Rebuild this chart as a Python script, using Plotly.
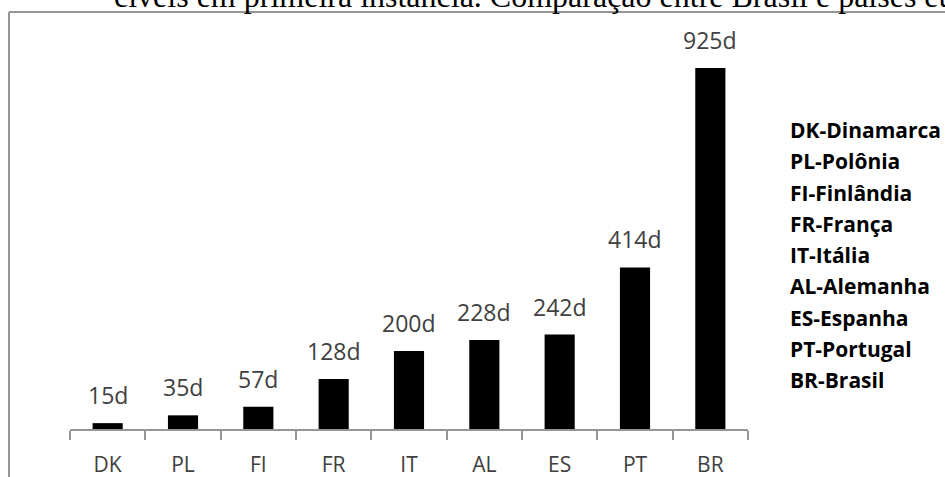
import plotly.graph_objects as go

# Average duration of first-instance civil proceedings, in days
codes = ["DK", "PL", "FI", "FR", "IT", "AL", "ES", "PT", "BR"]
days = [15, 35, 57, 128, 200, 228, 242, 414, 925]
names = ["Dinamarca", "Polônia", "Finlândia", "França", "Itália",
         "Alemanha", "Espanha", "Portugal", "Brasil"]
title_text = "cíveis em primeira instância. Comparação entre Brasil e países eu"

W, H = 945, 477
ML, MR, MT, MB = 70, 197, 40, 48
PW, PH = W - ML - MR, H - MT - MB


def px_x(px):
    return (px - ML) / PW


def px_y(py):
    return (H - MB - py) / PH


LABEL_FONT = "Open Sans"
TEXT_GREY = "#404040"
FRAME_GREY = "#959595"

fig = go.Figure(
    go.Bar(
        x=codes,
        y=days,
        marker=dict(color="black", line=dict(width=0)),
        width=0.4,
        hoverinfo="skip",
    )
)

annotations = []
# value labels above each bar
for c, d in zip(codes, days):
    annotations.append(dict(
        x=c, y=d, xref="x", yref="y", text=f"{d}d", showarrow=False,
        yanchor="bottom", xanchor="center", yshift=10,
        font=dict(family=LABEL_FONT, size=23, color=TEXT_GREY),
    ))

# key of country codes on the right
for i, (c, n) in enumerate(zip(codes, names)):
    annotations.append(dict(
        x=px_x(788), y=px_y(130 + 31.25 * i), xref="paper", yref="paper",
        text=f"<b>{c}-{n}</b>", showarrow=False,
        xanchor="left", yanchor="middle",
        font=dict(family=LABEL_FONT, size=21, color="black"),
    ))

# caption line running above the frame
annotations.append(dict(
    x=px_x(112), y=px_y(-4), xref="paper", yref="paper",
    text=title_text, showarrow=False, xanchor="left", yanchor="middle",
    font=dict(family="Liberation Serif", size=32, color="black"),
))

shapes = [
    dict(type="line", xref="paper", yref="paper",
         x0=px_x(9), x1=px_x(W + 5), y0=px_y(12), y1=px_y(12),
         line=dict(color=FRAME_GREY, width=2)),
    dict(type="line", xref="paper", yref="paper",
         x0=px_x(9), x1=px_x(9), y0=px_y(12), y1=px_y(H + 5),
         line=dict(color=FRAME_GREY, width=2)),
]

fig.update_layout(
    width=W, height=H,
    margin=dict(l=ML, r=MR, t=MT, b=MB, pad=0),
    paper_bgcolor="white", plot_bgcolor="white",
    showlegend=False,
    bargap=0.6,
    annotations=annotations,
    shapes=shapes,
    xaxis=dict(
        showline=True, linecolor=FRAME_GREY, linewidth=2,
        ticks="outside", tickson="boundaries", ticklen=9,
        tickcolor=FRAME_GREY, tickwidth=2,
        ticklabelstandoff=16,
        automargin=False,
        showgrid=False, zeroline=False,
        tickfont=dict(family=LABEL_FONT, size=21, color=TEXT_GREY),
        fixedrange=True,
    ),
    yaxis=dict(
        range=[0, PH / ((H - MB - 68) / days[-1])],
        visible=False, showgrid=False, zeroline=False, fixedrange=True,
        automargin=False,
    ),
)

fig.write_html("out.html", config={"displayModeBar": False})
